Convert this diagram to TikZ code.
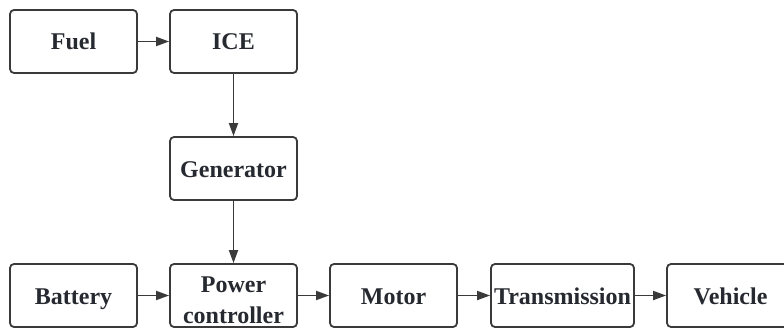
\documentclass[tikz,border=0pt]{standalone}
\usepackage{fontspec}
\setmainfont{Liberation Serif}
\usepackage{tikz}
\usetikzlibrary{arrows.meta}

\definecolor{boxline}{HTML}{3A3A3A}
\definecolor{boxtext}{HTML}{262A30}

\tikzset{
	block/.style={draw=boxline, line width=1.8pt, rounded corners=4pt, fill=white,
		minimum width=127pt, minimum height=63pt, inner sep=0pt,
		text height=17pt, text depth=0pt,
		align=center, text=boxtext, font=\fontsize{24}{31}\selectfont\bfseries},
	flow/.style={draw=boxline, line width=1.8pt, -{Triangle[length=13pt,width=9pt]}}
}

\begin{document}
\begin{tikzpicture}[x=1pt,y=-1pt]

	\useasboundingbox (0,0) rectangle (784,329);

	\coordinate (fuelc) at (73.5,41.5);
	\coordinate (icec) at (233.5,41.5);
	\coordinate (genc) at (233.5,168.5);
	\coordinate (batc) at (73.5,295.5);
	\coordinate (pcc) at (233.5,295.5);
	\coordinate (motc) at (393.5,295.5);
	\coordinate (trc) at (562.5,295.5);
	\coordinate (vehc) at (730.5,295.5);

	\node[block] (fuel) at (fuelc) {Fuel};
	\node[block] (ice) at (icec) {ICE};
	\node[block] (gen) at (genc) {Generator};
	\node[block] (bat) at (batc) {Battery};
	\node[block, text height=56pt] (pc) at (pcc) {Power\\controller};
	\node[block] (mot) at (motc) {Motor};
	\node[block, minimum width=143pt] (tr) at (trc) {Transmission};
	\node[block] (veh) at (vehc) {Vehicle};

	\draw[flow] (fuel) -- (ice);
	\draw[flow] (ice) -- (gen);
	\draw[flow] (gen) -- (pc);
	\draw[flow] (bat) -- (pc);
	\draw[flow] (pc) -- (mot);
	\draw[flow] (mot) -- (tr);
	\draw[flow] (tr) -- (veh);
%	\draw[flow] (bat) -- (gen);

\end{tikzpicture}
\end{document}
